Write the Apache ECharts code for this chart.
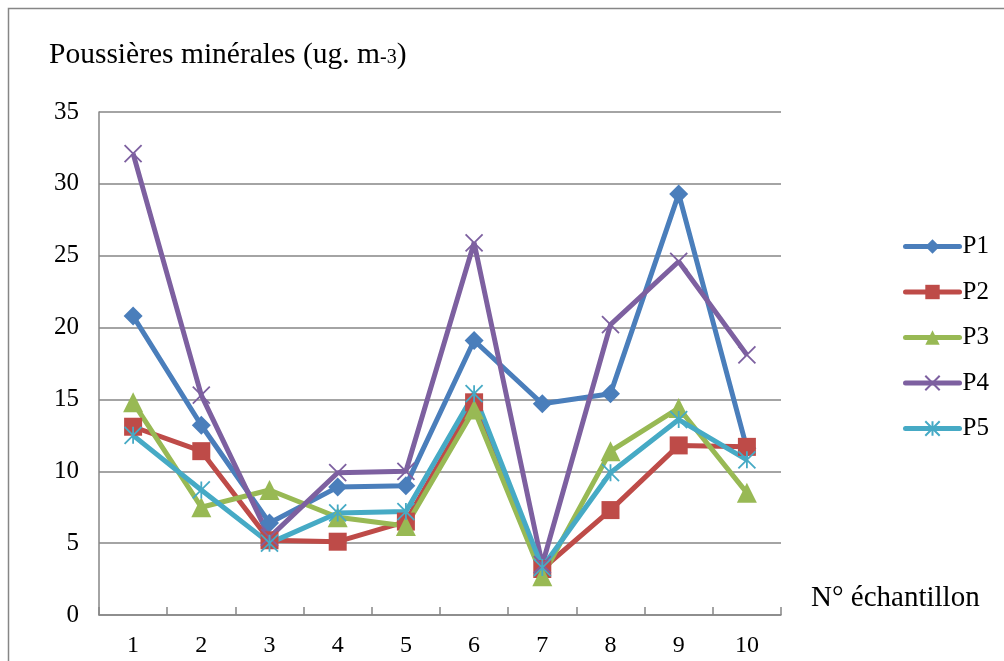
<!DOCTYPE html>
<html>
<head>
<meta charset="utf-8">
<script src="https://cdn.jsdelivr.net/npm/echarts@6/dist/echarts.min.js"></script>
<style>
  html, body { margin: 0; padding: 0; background: #fff; }
  #chart { width: 1004px; height: 661px; }
</style>
</head>
<body>
<div id="chart"></div>
<script>
// Sample numbers along the x axis
const categories = ['1', '2', '3', '4', '5', '6', '7', '8', '9', '10'];

// Mineral dust concentration (ug. m-3) per site
const p1 = [20.8, 13.2, 6.4, 8.9, 9.0, 19.1, 14.7, 15.4, 29.3, 11.6];
const p2 = [13.1, 11.4, 5.2, 5.1, 6.5, 14.8, 3.2, 7.3, 11.8, 11.7];
const p3 = [14.8, 7.5, 8.7, 6.8, 6.2, 14.3, 2.7, 11.4, 14.4, 8.5];
const p4 = [32.1, 15.3, 5.4, 9.9, 10.0, 25.9, 3.5, 20.2, 24.6, 18.1];
const p5 = [12.5, 8.7, 5.0, 7.1, 7.2, 15.4, 3.3, 9.9, 13.6, 10.8];

const seriesNames = ['P1', 'P2', 'P3', 'P4', 'P5'];
const yTicks = { min: 0, max: 35, interval: 5 };

const FONT = '"Liberation Serif", "Times New Roman", serif';
const GREY = '#868686';

const crossPath = 'path://M0,0 L10,10 M10,0 L0,10';
const starPath = 'path://M0,0 L10,10 M10,0 L0,10 M5,0 L5,10';

function lineSeries(name, data, color, symbol, size, thinMarker) {
  return {
    name: name,
    type: 'line',
    data: data,
    symbol: symbol,
    symbolSize: size,
    showAllSymbol: true,
    lineStyle: { color: color, width: 5 },
    itemStyle: thinMarker
      ? { color: color, borderColor: color, borderWidth: 1.8 }
      : { color: color, borderWidth: 0 },
    emphasis: { disabled: true },
    animation: false
  };
}

const chart = echarts.init(document.getElementById('chart'), null, { renderer: 'canvas' });

chart.setOption({
  backgroundColor: '#ffffff',
  animation: false,
  textStyle: { fontFamily: FONT },
  grid: { left: 99, right: 223, top: 112, bottom: 46, containLabel: false },
  graphic: [
    {
      type: 'rect',
      shape: { x: 8.5, y: 8.5, width: 1010, height: 700 },
      style: { fill: 'none', stroke: GREY, lineWidth: 1.5 },
      silent: true
    },
    {
      type: 'text',
      left: 49,
      top: 40,
      style: {
        text: '{a|Poussières minérales (ug. m}{b|-3}{a|)}',
        rich: {
          a: { fontFamily: FONT, fontSize: 29.5, fill: '#000', lineHeight: 33, verticalAlign: 'bottom' },
          b: { fontFamily: FONT, fontSize: 20, fill: '#000', lineHeight: 33, verticalAlign: 'bottom', padding: [0, 0, 2, 0] }
        }
      }
    },
    {
      type: 'text',
      left: 811,
      top: 582,
      style: { text: 'N° échantillon', fontFamily: FONT, fontSize: 29, lineHeight: 33, fill: '#000' }
    }
  ],
  legend: {
    orient: 'vertical',
    left: 903,
    top: 234,
    padding: 0,
    itemWidth: 54,
    itemHeight: 18,
    itemGap: 20.5,
    data: seriesNames,
    lineStyle: { width: 5, cap: 'round' },
    textStyle: { fontFamily: FONT, fontSize: 25, lineHeight: 25, color: '#000', padding: [0, 0, 0, -2] },
    selectedMode: false
  },
  xAxis: {
    type: 'category',
    data: categories,
    boundaryGap: true,
    axisLine: { show: true, lineStyle: { color: GREY, width: 1.5 } },
    axisTick: { show: true, inside: true, length: 8, lineStyle: { color: GREY, width: 1.5 } },
    axisLabel: { fontFamily: FONT, fontSize: 24, color: '#000', margin: 19 },
    splitLine: { show: false }
  },
  yAxis: {
    type: 'value',
    min: yTicks.min,
    max: yTicks.max,
    interval: yTicks.interval,
    axisLine: { show: true, lineStyle: { color: GREY, width: 1.5 } },
    axisTick: { show: false },
    axisLabel: { fontFamily: FONT, fontSize: 25, color: '#000', margin: 20 },
    splitLine: { show: true, lineStyle: { color: GREY, width: 1.5 } }
  },
  series: [
    lineSeries('P1', p1, '#4A7EBB', 'diamond', 19, false),
    lineSeries('P2', p2, '#BE4B48', 'rect', 18, false),
    lineSeries('P3', p3, '#98B954', 'triangle', 20, false),
    lineSeries('P4', p4, '#7D60A0', crossPath, 17, true),
    lineSeries('P5', p5, '#46AAC5', starPath, 17, true)
  ]
});
</script>
</body>
</html>
